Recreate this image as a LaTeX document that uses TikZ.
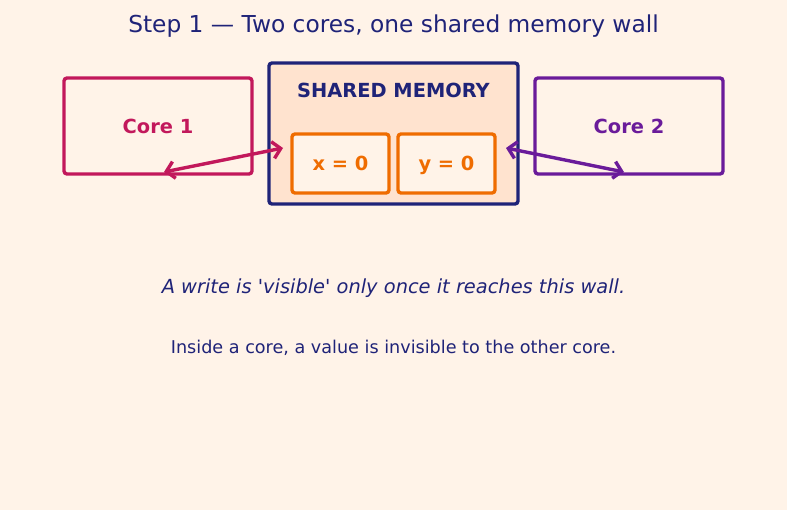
\documentclass[tikz,border=0pt]{standalone}
\usepackage{fontspec}
\setmainfont{DejaVu Sans}
\usetikzlibrary{arrows.meta}
\definecolor{mybg}{RGB}{255,243,232}
\definecolor{mymemfill}{RGB}{255,227,207}
\definecolor{mynavy}{RGB}{31,35,120}
\definecolor{mycrimson}{RGB}{194,24,91}
\definecolor{mypurple}{RGB}{106,27,154}
\definecolor{myorange}{RGB}{239,108,0}

\begin{document}
\begin{tikzpicture}[x=1pt,y=-1pt,
  box/.style={draw,line width=3.4pt,rounded corners=3pt,inner sep=0pt},
  lbl/.style={font=\bfseries\fontsize{19.4}{23}\selectfont,text height=16.5pt,text depth=1.5pt},
  link/.style={line width=3.4pt,{Straight Barb[length=8pt,width=17pt]}-{Straight Barb[length=8pt,width=17pt]}}]

% background
\fill[mybg] (0,0) rectangle (787,510);
\useasboundingbox (0,0) rectangle (787,510);

\node[mynavy,font=\fontsize{23.3}{27}\selectfont] (title) at (393.5,26) {Step 1 — Two cores, one shared memory wall};

% cores
\node[box,mycrimson,minimum width=188pt,minimum height=96pt] (core1) at (158,126) {};
\node[lbl,mycrimson] (core1lbl) at (core1.center) {Core 1};
\node[box,mypurple,minimum width=188pt,minimum height=96pt] (core2) at (629,126) {};
\node[lbl,mypurple] (core2lbl) at (core2.center) {Core 2};

% shared memory
\node[box,mynavy,fill=mymemfill,minimum width=249pt,minimum height=141pt] (mem) at (393.5,133.5) {};
\node[lbl,mynavy] (memlbl) at (393.5,90) {SHARED MEMORY};
\node[box,myorange,fill=mybg,minimum width=97pt,minimum height=59pt] (xcell) at (340.5,163.5) {};
\node[lbl,myorange] (xlbl) at (xcell.center) {x = 0};
\node[box,myorange,fill=mybg,minimum width=97pt,minimum height=59pt] (ycell) at (446.5,163.5) {};
\node[lbl,myorange] (ylbl) at (ycell.center) {y = 0};

% links
\coordinate (c1end) at (164,172);
\coordinate (m1end) at (283,148);
\coordinate (c2end) at (624,172);
\coordinate (m2end) at (506,148);
\draw[link,mycrimson] (c1end) -- (m1end);
\draw[link,mypurple] (m2end) -- (c2end);

% notes
\node[mynavy,font=\itshape\fontsize{19.4}{23}\selectfont] (note1) at (393.5,288) {A write is \textquotesingle visible\textquotesingle{} only once it reaches this wall.};
\node[mynavy,font=\fontsize{17.6}{22}\selectfont] (note2) at (393.5,348) {Inside a core, a value is invisible to the other core.};

\end{tikzpicture}
\end{document}
